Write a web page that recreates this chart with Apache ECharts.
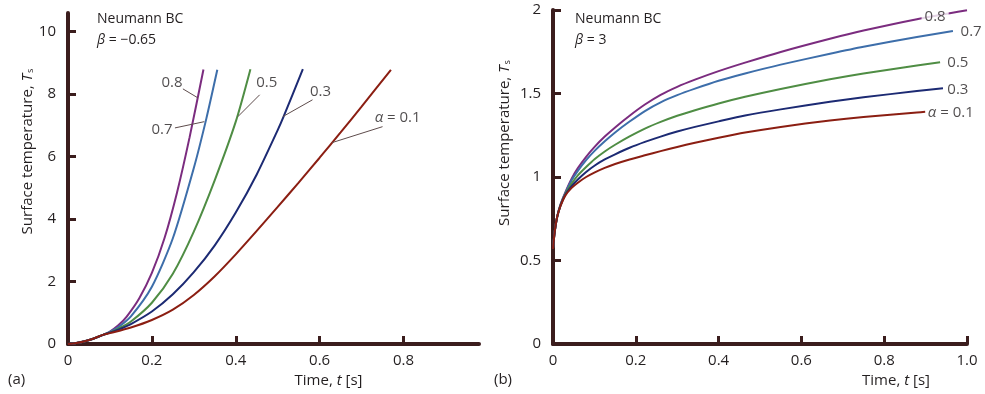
<!DOCTYPE html>
<html>
<head>
<meta charset="utf-8">
<script src="https://cdn.jsdelivr.net/npm/echarts@6/dist/echarts.min.js"></script>
<style>
  html, body { margin: 0; padding: 0; background: #fff; }
  #chart { width: 985px; height: 394px; }
</style>
</head>
<body>
<div id="chart"></div>
<script>
// (a) beta = -0.65, points are [t, Ts]
const leftA08 = [[0,0],[0.02,0.03],[0.04,0.09],[0.06,0.17],[0.085,0.3],[0.1,0.4],[0.12,0.6],[0.14,0.88],[0.17,1.465],[0.2,2.275],[0.23,3.385],[0.26,4.855],[0.29,6.625],[0.323,8.79]]
const leftA07 = [[0,0],[0.02,0.03],[0.04,0.09],[0.06,0.17],[0.085,0.3],[0.1,0.386],[0.12,0.541],[0.15,0.886],[0.2,1.836],[0.25,3.386],[0.3,5.636],[0.33,7.226],[0.356,8.78]]
const leftA05 = [[0,0],[0.02,0.03],[0.04,0.09],[0.06,0.17],[0.085,0.3],[0.1,0.371],[0.12,0.49],[0.15,0.72],[0.2,1.32],[0.25,2.25],[0.3,3.6],[0.35,5.25],[0.4,7.12],[0.435,8.8]]
const leftA03 = [[0,0],[0.02,0.03],[0.04,0.09],[0.06,0.17],[0.085,0.3],[0.1,0.363],[0.12,0.46],[0.15,0.64],[0.2,1.04],[0.25,1.59],[0.3,2.3],[0.35,3.16],[0.4,4.21],[0.45,5.43],[0.5,6.85],[0.514,7.28],[0.56,8.8]]
const leftA01 = [[0,0],[0.02,0.03],[0.04,0.09],[0.06,0.17],[0.085,0.3],[0.1,0.348],[0.15,0.53],[0.2,0.77],[0.25,1.1],[0.3,1.57],[0.35,2.17],[0.4,2.87],[0.45,3.62],[0.5,4.39],[0.55,5.17],[0.6,5.965],[0.65,6.775],[0.7,7.6],[0.77,8.78]]

// (b) beta = 3
const rightA08 = [[0,0.57],[0.004,0.67],[0.01,0.76],[0.018,0.835],[0.03,0.91],[0.045,0.99],[0.06,1.053],[0.08,1.121],[0.101,1.182],[0.125,1.242],[0.15,1.297],[0.185,1.367],[0.222,1.434],[0.26,1.492],[0.3,1.54],[0.343,1.583],[0.4,1.634],[0.464,1.685],[0.55,1.749],[0.669,1.828],[0.75,1.877],[0.879,1.945],[1.0,1.999]]
const rightA07 = [[0,0.57],[0.004,0.67],[0.01,0.76],[0.018,0.832],[0.03,0.905],[0.045,0.98],[0.06,1.037],[0.08,1.101],[0.101,1.158],[0.125,1.214],[0.15,1.267],[0.185,1.332],[0.222,1.395],[0.26,1.447],[0.3,1.49],[0.343,1.529],[0.4,1.576],[0.464,1.62],[0.55,1.673],[0.669,1.738],[0.75,1.78],[0.879,1.838],[0.966,1.874]]
const rightA05 = [[0,0.57],[0.004,0.67],[0.01,0.76],[0.018,0.83],[0.03,0.9],[0.045,0.96],[0.06,1.01],[0.08,1.06],[0.101,1.108],[0.125,1.153],[0.15,1.193],[0.185,1.243],[0.222,1.29],[0.26,1.33],[0.3,1.367],[0.343,1.4],[0.4,1.44],[0.464,1.48],[0.55,1.527],[0.669,1.585],[0.75,1.62],[0.879,1.668],[0.935,1.687]]
const rightA03 = [[0,0.57],[0.004,0.67],[0.01,0.76],[0.018,0.828],[0.03,0.895],[0.045,0.945],[0.06,0.985],[0.08,1.03],[0.101,1.069],[0.125,1.105],[0.15,1.136],[0.185,1.175],[0.222,1.21],[0.26,1.242],[0.3,1.272],[0.343,1.3],[0.4,1.333],[0.464,1.368],[0.55,1.405],[0.669,1.45],[0.75,1.477],[0.879,1.515],[0.942,1.532]]
const rightA01 = [[0,0.57],[0.004,0.67],[0.01,0.76],[0.018,0.825],[0.03,0.89],[0.045,0.935],[0.06,0.966],[0.08,1.0],[0.101,1.028],[0.125,1.055],[0.15,1.078],[0.185,1.105],[0.222,1.13],[0.26,1.155],[0.3,1.18],[0.343,1.205],[0.4,1.235],[0.464,1.266],[0.55,1.3],[0.669,1.339],[0.75,1.36],[0.879,1.386],[0.899,1.39]]

const alphaNames = ['0.8', '0.7', '0.5', '0.3', '{i|α} = 0.1']
const colors = ['#7b2c7f', '#3d6eaa', '#4f8d44', '#1c2a73', '#8b1e12']

// curve labels [t, Ts] and their leader lines
const leftLabelPos = [[0.248,8.37],[0.224,6.86],[0.474,8.37],[0.602,8.08],[0.786,7.24]]
const leftLeaders = [
  [[0.274,8.17],[0.31,7.88]],
  [[0.255,6.92],[0.325,7.12]],
  [[0.457,7.98],[0.405,7.28]],
  [[0.583,7.82],[0.512,7.28]],
  [[0.75,6.96],[0.63,6.45]]
]
const rightLabelPos = [[0.923,1.958],[1.01,1.868],[0.978,1.683],[0.978,1.521],[0.961,1.383]]

const leftXTicks = [0, 0.2, 0.4, 0.6, 0.8]
const leftYTicks = [0, 2, 4, 6, 8, 10]

const axisColor = '#3b1d1d'
const textColor = '#231f20'
const font = 'Open Sans'

const chart = echarts.init(document.getElementById('chart'))

const rich = {
  i: { fontStyle: 'italic', fontSize: 15, fontFamily: font, color: textColor },
  sub: { fontSize: 9, fontFamily: font, color: textColor, padding: [6, 0, 0, 1] }
}

function xAxis(idx, extra) {
  return Object.assign({
    type: 'value',
    gridIndex: idx,
    min: 0,
    name: 'Time, {i|t} [s]',
    nameLocation: 'middle',
    nameGap: 26,
    nameTextStyle: { fontSize: 15, fontFamily: font, color: textColor, verticalAlign: 'top', rich },
    axisLine: { show: true, lineStyle: { color: axisColor, width: 4 } },
    axisTick: { show: true, inside: true, length: 8, lineStyle: { color: axisColor, width: 3 } },
    axisLabel: { fontSize: 15, fontFamily: font, color: textColor, margin: 9 },
    splitLine: { show: false }
  }, extra)
}

function yAxis(idx, extra) {
  return Object.assign({
    type: 'value',
    gridIndex: idx,
    min: 0,
    name: 'Surface temperature, {i|T}{sub|s}',
    nameLocation: 'middle',
    axisLine: { show: true, lineStyle: { color: axisColor, width: 4 } },
    axisTick: { show: true, inside: true, length: 8, lineStyle: { color: axisColor, width: 3 } },
    axisLabel: { fontSize: 15, fontFamily: font, color: textColor, margin: 12 },
    splitLine: { show: false }
  }, extra)
}

const series = []
const leftData = [leftA08, leftA07, leftA05, leftA03, leftA01]
const rightData = [rightA08, rightA07, rightA05, rightA03, rightA01]
leftData.forEach((d, i) => {
  series.push({
    type: 'line', xAxisIndex: 0, yAxisIndex: 0, data: d, smooth: 0.25,
    showSymbol: false, lineStyle: { color: colors[i], width: 2 }, z: 2
  })
})
rightData.forEach((d, i) => {
  series.push({
    type: 'line', xAxisIndex: 1, yAxisIndex: 1, data: d, smooth: 0.25,
    showSymbol: false, lineStyle: { color: colors[i], width: 2 }, z: 2
  })
})

const labelStyle = {
  show: true, position: 'inside', formatter: '{b}',
  fontSize: 15, fontFamily: font, color: textColor, rich
}

series.push({
  type: 'scatter', xAxisIndex: 0, yAxisIndex: 0, clip: false, z: 5,
  symbolSize: 1, itemStyle: { color: 'rgba(0,0,0,0)' }, silent: true,
  label: labelStyle,
  data: leftLabelPos.map((p, i) => ({ name: alphaNames[i], value: p })),
  markLine: {
    silent: true, symbol: ['none', 'none'], label: { show: false },
    lineStyle: { color: '#5e4c4c', width: 1, type: 'solid' },
    data: leftLeaders.map(l => [{ coord: l[0] }, { coord: l[1] }])
  }
})

series.push({
  type: 'scatter', xAxisIndex: 1, yAxisIndex: 1, clip: false, z: 5,
  symbolSize: 1, itemStyle: { color: 'rgba(0,0,0,0)' }, silent: true,
  label: labelStyle,
  data: rightLabelPos.map((p, i) => ({
    name: alphaNames[i], value: p,
    label: i === 0 ? { backgroundColor: '#fff', padding: [0, 3] } : undefined
  }))
})

const option = {
  backgroundColor: '#fff',
  animation: false,
  grid: [
    { left: 68, top: 13, width: 411, height: 331 },
    { left: 553, top: 10, width: 414, height: 334 }
  ],
  xAxis: [
    xAxis(0, {
      max: 0.98,
      nameTextStyle: { fontSize: 15, fontFamily: font, color: textColor, verticalAlign: 'top', rich, padding: [0, 0, 0, 110] },
      axisTick: { show: true, inside: true, length: 8, customValues: leftXTicks, lineStyle: { color: axisColor, width: 3 } },
      axisLabel: { fontSize: 15, fontFamily: font, color: textColor, margin: 9, customValues: leftXTicks }
    }),
    xAxis(1, {
      max: 1, interval: 0.2,
      nameTextStyle: { fontSize: 15, fontFamily: font, color: textColor, verticalAlign: 'top', rich, padding: [0, 0, 0, 272] },
      axisLabel: { fontSize: 15, fontFamily: font, color: textColor, margin: 9,
        formatter: v => (v === 0 ? '0' : v.toFixed(1)) }
    })
  ],
  yAxis: [
    yAxis(0, {
      max: 10.6,
      nameGap: 31,
      nameTextStyle: { fontSize: 15, fontFamily: font, color: textColor, rich, padding: [0, 0, 0, 54] },
      axisTick: { show: true, inside: true, length: 8, customValues: leftYTicks, lineStyle: { color: axisColor, width: 3 } },
      axisLabel: { fontSize: 15, fontFamily: font, color: textColor, margin: 12, customValues: leftYTicks }
    }),
    yAxis(1, {
      max: 2, interval: 0.5,
      nameGap: 41,
      nameTextStyle: { fontSize: 15, fontFamily: font, color: textColor, rich, padding: [0, 0, 0, 68] }
    })
  ],
  graphic: [
    { type: 'text', left: 97, top: 12, style: { text: 'Neumann BC', font: '14px "Open Sans"', fill: textColor } },
    { type: 'text', left: 97, top: 33, style: { text: '{i|β} = −0.65', font: '14px "Open Sans"', fill: textColor,
      rich: { i: { fontStyle: 'italic', fontSize: 14, fontFamily: font } } } },
    { type: 'text', left: 575, top: 12, style: { text: 'Neumann BC', font: '14px "Open Sans"', fill: textColor } },
    { type: 'text', left: 575, top: 33, style: { text: '{i|β} = 3', font: '14px "Open Sans"', fill: textColor,
      rich: { i: { fontStyle: 'italic', fontSize: 14, fontFamily: font } } } },
    { type: 'text', left: 8, top: 372, style: { text: '(a)', font: '15px "Open Sans"', fill: textColor } },
    { type: 'text', left: 494, top: 372, style: { text: '(b)', font: '15px "Open Sans"', fill: textColor } }
  ],
  series
}

chart.setOption(option)
</script>
</body>
</html>
